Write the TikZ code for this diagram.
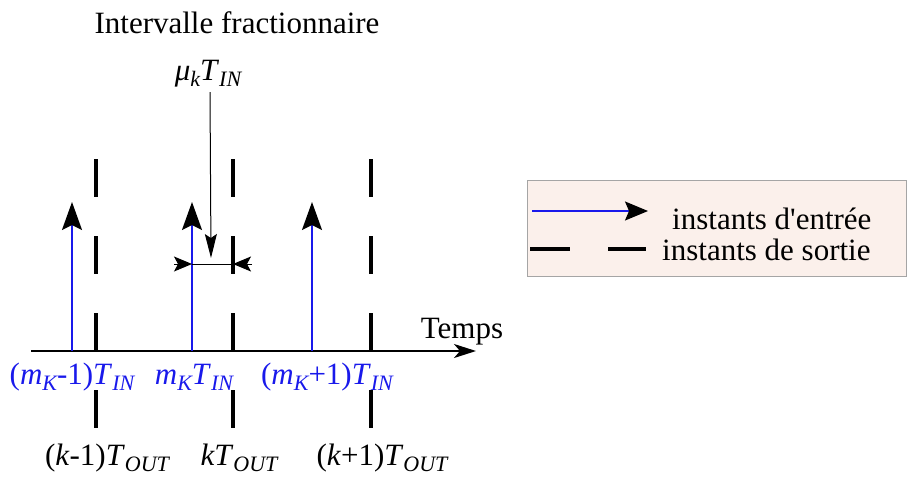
\documentclass[tikz,border=0pt]{standalone}
\usepackage{fontspec}
\setmainfont{Liberation Serif}
\newfontface\quoteface{Liberation Serif}[Ligatures=ResetAll]
\usetikzlibrary{arrows.meta}
\definecolor{inblue}{RGB}{25,25,235}
\definecolor{legfill}{RGB}{251,240,235}
\definecolor{legdraw}{RGB}{165,165,165}
\newcommand{\lsub}[1]{\raisebox{-0.2em}{\fontsize{22}{24}\selectfont\itshape #1}}
\begin{document}
\begin{tikzpicture}[x=1pt,y=-1pt,
  every node/.style={font=\fontsize{31}{36}\selectfont, inner sep=0pt},
  lbl/.style={anchor=base},
  bluelbl/.style={anchor=base, text=inblue},
  inarrow/.style={draw=inblue, line width=2pt, -{Stealth[length=28pt,width=20pt,inset=5pt,color=black]}},
  outdash/.style={line width=4pt, dash pattern=on 38pt off 39pt},
  axisline/.style={line width=2pt, -{Stealth[length=22pt,width=14pt,inset=6pt]}},
  ptr/.style={line width=1pt, -{Stealth[length=24pt,width=12pt,inset=4pt]}},
  dimarrow/.style={line width=1pt, -{Stealth[length=18pt,width=15pt,inset=4pt]}},
  legbox/.style={draw=legdraw, fill=legfill, line width=1pt}]
\useasboundingbox (0,0) rectangle (909,477);

% axis
\coordinate (ax0) at (31,351);
\coordinate (ax1) at (476,351);
\draw[axisline] (ax0) -- (ax1);
\node[lbl] (temps) at (462,338) {Temps};

% output instants
\foreach \i/\x in {1/96,2/233,3/371}{
  \coordinate (o\i t) at (\x,159);
  \coordinate (o\i b) at (\x,428);
  \draw[outdash] (o\i t) -- (o\i b);
}

% input instants
\foreach \i/\x in {1/72,2/192,3/312}{
  \coordinate (i\i b) at (\x,351);
  \coordinate (i\i t) at (\x,202);
  \draw[inarrow] (i\i b) -- (i\i t);
}

% fractional interval
\node[lbl] (title) at (237,33) {Intervalle fractionnaire};
\node[lbl] (mu) at (208,80) {\textit{μ}\lsub{k}\textit{T}\lsub{IN}};
\coordinate (ptrtop) at (210,92);
\coordinate (ptrtip) at (211,258);
\draw[ptr] (ptrtop) -- (ptrtip);
\coordinate (dl) at (192,264);
\coordinate (dr) at (233,264);
\coordinate (dlo) at (174,264);
\coordinate (dro) at (252,264);
\draw[line width=1pt] (dl) -- (dr);
\draw[dimarrow] (dlo) -- (dl);
\draw[dimarrow] (dro) -- (dr);

% blue labels
\node[bluelbl] (lin1) at (72,384) {(\textit{m}\lsub{K}-1)\textit{T}\lsub{IN}};
\node[bluelbl] (lin2) at (194,384) {\textit{m}\lsub{K}\textit{T}\lsub{IN}};
\node[bluelbl] (lin3) at (327,384) {(\textit{m}\lsub{K}+1)\textit{T}\lsub{IN}};

% black labels
\node[lbl] (lout1) at (107,465) {(\textit{k}-1)\textit{T}\lsub{OUT}};
\node[lbl] (lout2) at (239,465) {\textit{kT}\lsub{OUT}};
\node[lbl] (lout3) at (382,465) {(\textit{k}+1)\textit{T}\lsub{OUT}};

% legend
\node[legbox, minimum width=379pt, minimum height=96pt, anchor=north west] (legend) at (527,180) {};
\coordinate (la0) at (532,211);
\coordinate (la1) at (648,211);
\draw[draw=inblue, line width=1.5pt, -{Stealth[length=23pt,width=19pt,inset=4pt,color=black]}] (la0) -- (la1);
\node[anchor=base west] (leg1) at (672,229) {instants d{\quoteface'}entrée};
\coordinate (ld0) at (530,249);
\coordinate (ld1) at (570,249);
\coordinate (ld2) at (608,249);
\coordinate (ld3) at (646,249);
\draw[line width=4pt] (ld0) -- (ld1);
\draw[line width=4pt] (ld2) -- (ld3);
\node[anchor=base west] (leg2) at (662,260) {instants de sortie};
\end{tikzpicture}
\end{document}
